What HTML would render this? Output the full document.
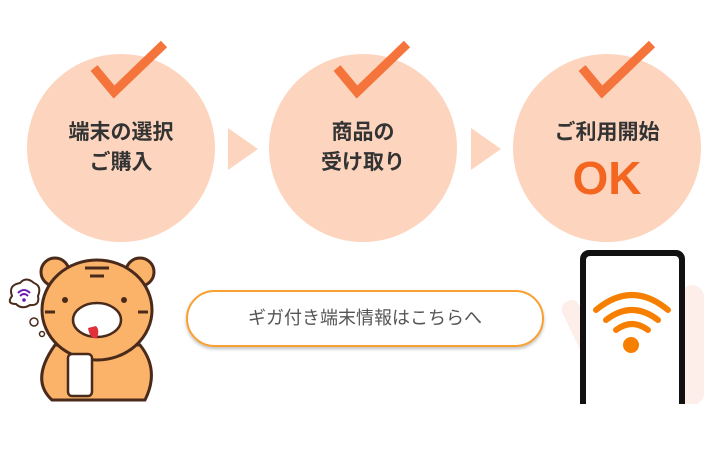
<!DOCTYPE html>
<html><head><meta charset="utf-8"><style>
body{margin:0;width:728px;height:450px;background:#fff;overflow:hidden;position:relative;font-family:"Liberation Sans","Noto Sans CJK JP",sans-serif}
.c{position:absolute;width:188px;height:188px;border-radius:50%;background:#fdd5bf;top:54px}
.t{position:absolute;width:188px;text-align:center;font-weight:bold;font-size:21px;color:#333;line-height:30px}
.btn{position:absolute;left:186px;top:290px;width:354px;height:53px;border:2px solid #f8a030;border-radius:30px;box-shadow:0 2px 3px rgba(0,0,0,.25);text-align:center;line-height:53px;font-size:18px;color:#555}
</style></head><body>
<div class="c" style="left:27px"></div>
<div class="c" style="left:269px"></div>
<div class="c" style="left:513px"></div>
<div class="t" style="left:27px;top:118px">端末の選択<br>ご購入</div>
<div class="t" style="left:269px;top:118px">商品の<br>受け取り</div>
<div class="t" style="left:513px;top:118px">ご利用開始</div>
<div class="t" style="left:513px;top:152px;font-size:46px;line-height:52px;color:#f4661f">OK</div>
<svg width="728" height="450" style="position:absolute;left:0;top:0">
<defs><clipPath id="cp"><rect x="0" y="0" width="728" height="404"/></clipPath></defs>
<g fill="none" stroke="#f4743b" stroke-width="9" stroke-linecap="butt">
<path d="M94 68 L114 92 L164 44"/>
<path d="M337 68 L357 92 L407 44"/>
<path d="M582 68 L602 92 L652 44"/>
</g>
<polygon points="228,128 258,149 228,170" fill="#fdd5bf"/>
<polygon points="471,128 501,149 471,170" fill="#fdd5bf"/>
<g clip-path="url(#cp)">
<path d="M562 312 Q560 300 575 300 L583 310 L583 405 L615 405 Q600 370 585 360 Z" fill="#fdeeea"/>
<rect x="680" y="285" width="24" height="120" rx="12" fill="#fdeeea"/>
<rect x="580" y="250" width="105" height="170" rx="9" fill="#111"/>
<rect x="586" y="256" width="93" height="170" rx="4" fill="#fff"/>
</g>
<g fill="none" stroke="#f77f00" stroke-width="6" stroke-linecap="round">
<path d="M596 310 Q632 280 668 310"/>
<path d="M606 320 Q632 300 658 320"/>
<path d="M616 330 Q632 318 648 330"/>
</g>
<circle cx="631" cy="345" r="8" fill="#f77f00"/>
<g stroke="#4a2a1a" stroke-width="3" fill="#fbb36a">
<circle cx="55" cy="272" r="14"/><circle cx="140" cy="272" r="14"/>
<path d="M55 345 Q30 380 52 400 L145 400 Q160 370 140 345 Z"/>
<ellipse cx="97" cy="310" rx="55" ry="50"/>
</g>
<g fill="#fff" stroke="#4a2a1a" stroke-width="2.5">
<ellipse cx="97" cy="320" rx="24" ry="17"/>
<rect x="68" y="354" width="24" height="42" rx="4"/>
</g>
<circle cx="65" cy="300" r="3" fill="#4a2a1a"/><circle cx="124" cy="300" r="3" fill="#4a2a1a"/>
<path d="M88 328 Q90 340 97 338 Q100 330 96 326 Z" fill="#e0303a"/>
<g stroke="#4a2a1a" stroke-width="3" fill="none"><path d="M85 268h24M90 276h14M45 312h10M138 312h10"/></g>
<path d="M12 296 Q8 285 20 283 Q26 276 34 283 Q42 286 38 296 Q40 306 30 305 Q22 310 16 304 Q6 304 12 296Z" fill="#fff" stroke="#4a2a1a" stroke-width="2"/>
<g fill="none" stroke="#6a1ab0" stroke-width="2"><path d="M18 293 Q24 287 30 293"/><path d="M20 296 Q24 292 28 296"/></g>
<circle cx="24" cy="300" r="1.8" fill="#6a1ab0"/>
<circle cx="34" cy="322" r="4" fill="#fff" stroke="#4a2a1a" stroke-width="1.5"/>
<circle cx="42" cy="334" r="2.5" fill="#fff" stroke="#4a2a1a" stroke-width="1.5"/>
</svg>
<div class="btn">ギガ付き端末情報はこちらへ</div>
</body></html>
